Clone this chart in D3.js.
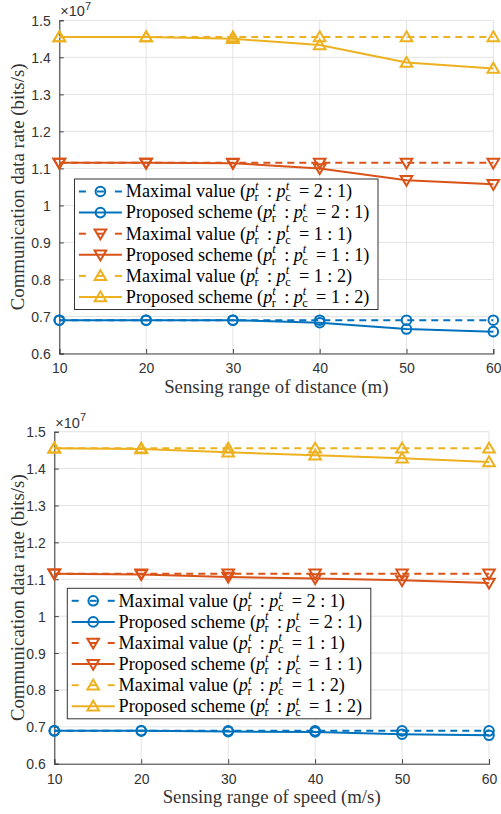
<!DOCTYPE html>
<html>
<head>
<meta charset="utf-8">
<script src="https://cdn.jsdelivr.net/npm/d3@7"></script>
<style>
  body { margin: 0; background: #fff; }
  svg { display: block; }
</style>
</head>
<body>
<svg id="chart" width="501" height="814"></svg>
<script>
// x values shared by both panels
const xVals = [10, 20, 30, 40, 50, 60];
const yTicks = [0.6, 0.7, 0.8, 0.9, 1.0, 1.1, 1.2, 1.3, 1.4, 1.5];

// panel (a): sensing range of distance, values x 1e7 bits/s
const distMax21  = [0.69, 0.69, 0.69, 0.69, 0.69, 0.69];
const distProp21 = [0.69, 0.69, 0.69, 0.683, 0.666, 0.659];
const distMax11  = [1.115, 1.115, 1.115, 1.115, 1.115, 1.115];
const distProp11 = [1.115, 1.115, 1.114, 1.10, 1.068, 1.057];
const distMax12  = [1.455, 1.455, 1.455, 1.455, 1.455, 1.455];
const distProp12 = [1.455, 1.455, 1.45, 1.433, 1.386, 1.37];

// panel (b): sensing range of speed
const speedMax21  = [0.689, 0.689, 0.689, 0.689, 0.689, 0.689];
const speedProp21 = [0.689, 0.689, 0.687, 0.686, 0.68, 0.677];
const speedMax11  = [1.115, 1.115, 1.115, 1.115, 1.115, 1.115];
const speedProp11 = [1.115, 1.113, 1.106, 1.102, 1.097, 1.09];
const speedMax12  = [1.455, 1.455, 1.455, 1.455, 1.455, 1.455];
const speedProp12 = [1.455, 1.453, 1.444, 1.436, 1.428, 1.418];

const ratioLabels = ["2 : 1", "1 : 1", "1 : 2"];
const colors = ["#0072BD", "#D95319", "#EDB120"];
const markers = ["circle", "down", "up"];

const serif = "'Liberation Serif', 'DejaVu Serif', serif";
const sans = "'Liberation Sans', Arial, sans-serif";

const svg = d3.select("#chart");

function marker(sel, kind, color) {
    if (kind == "circle") {
        sel.append("circle").attr("r", 4.8)
           .attr("fill", "none").attr("stroke", color).attr("stroke-width", 2);
    } else {
        let p = kind == "up" ? "M0,-5.6L5.8,4.2L-5.8,4.2Z" : "M0,5.6L5.8,-4.2L-5.8,-4.2Z";
        sel.append("path").attr("d", p)
           .attr("fill", "none").attr("stroke", color).attr("stroke-width", 2)
           .attr("stroke-linejoin", "miter");
    }
}

// legend text with p_r^t : p_c^t notation
function legendText(g, x, y, name, ratio) {
    let t = g.append("text").attr("x", x).attr("y", y)
             .attr("font-family", serif).attr("font-size", 18.2).attr("fill", "#000");
    t.append("tspan").text(name + " (");
    let pp = (sub) => {
        t.append("tspan").attr("font-style", "italic").text("p");
        t.append("tspan").attr("font-style", "italic").attr("font-size", 12.5).attr("dy", -7.5).text("t");
        t.append("tspan").attr("font-size", 12.5).attr("dx", -4).attr("dy", 11.5).text(sub);
        t.append("tspan").attr("dy", -4).text("\u2009");
    };
    pp("r");
    t.append("tspan").text(" : ");
    pp("c");
    t.append("tspan").text(" = " + ratio + ")");
}

function panel(cfg) {
    let x = d3.scaleLinear().domain([10, 60]).range([cfg.left, cfg.right]);
    let y = d3.scaleLinear().domain([0.6, 1.5]).range([cfg.bottom, cfg.top]);
    let g = svg.append("g");

    // grid
    g.append("g").selectAll("line").data(xVals).join("line")
     .attr("x1", d => x(d)).attr("x2", d => x(d))
     .attr("y1", cfg.top).attr("y2", cfg.bottom)
     .attr("stroke", "#e3e3e3").attr("stroke-width", 1);
    g.append("g").selectAll("line").data(yTicks).join("line")
     .attr("x1", cfg.left).attr("x2", cfg.right)
     .attr("y1", d => y(d)).attr("y2", d => y(d))
     .attr("stroke", "#e3e3e3").attr("stroke-width", 1);

    // axes (ticks inward, like matlab)
    let fmt = d => String(+d.toFixed(1));
    let ax = g.append("g").attr("transform", `translate(0,${cfg.bottom})`)
              .call(d3.axisBottom(x).tickValues(xVals).tickSize(-4.5).tickPadding(10).tickFormat(d3.format("d")));
    let ay = g.append("g").attr("transform", `translate(${cfg.left},0)`)
              .call(d3.axisLeft(y).tickValues(yTicks).tickSize(-4.5).tickPadding(8.5).tickFormat(fmt));
    [ax, ay].forEach(a => {
        a.select(".domain").attr("stroke", "#444").attr("stroke-width", 1.1);
        a.selectAll(".tick line").attr("stroke", "#444");
        a.selectAll(".tick text").attr("font-family", sans).attr("font-size", 14).attr("fill", "#333");
    });
    ay.selectAll(".tick text").attr("dy", "0.36em");

    // x10^7
    let e = g.append("text").attr("x", cfg.left + 1).attr("y", cfg.top - 4)
             .attr("font-family", sans).attr("font-size", 14.5).attr("fill", "#333");
    e.append("tspan").text("\u00d710");
    e.append("tspan").attr("font-size", 11).attr("dy", -6.5).text("7");

    // axis labels
    g.append("text").attr("x", (cfg.left + cfg.right) / 2).attr("y", cfg.xLabelY)
     .attr("text-anchor", "middle").attr("font-family", serif).attr("font-size", 18.8)
     .attr("fill", "#333").text(cfg.xLabel);
    g.append("text")
     .attr("transform", `translate(24,${(cfg.top + cfg.bottom) / 2}) rotate(-90)`)
     .attr("text-anchor", "middle").attr("font-family", serif).attr("font-size", 18.8)
     .attr("fill", "#333").text("Communication data rate (bits/s)");

    // series
    let line = d3.line().x((d, i) => x(xVals[i])).y(d => y(d));
    cfg.series.forEach((pair, k) => {
        pair.forEach((vals, j) => {
            let dashed = j == 0;
            g.append("path").datum(vals).attr("d", line)
             .attr("fill", "none").attr("stroke", colors[k]).attr("stroke-width", 2)
             .attr("stroke-dasharray", dashed ? "7,5" : null);
            g.append("g").selectAll("g").data(vals).join("g")
             .attr("transform", (d, i) => `translate(${x(xVals[i])},${y(d)})`)
             .each(function() { marker(d3.select(this), markers[k], colors[k]); });
        });
    });

    // legend
    let lg = svg.append("g").attr("transform", `translate(${cfg.legX},${cfg.legY})`);
    let rowH = 21.1, lw = 303.5;
    lg.append("rect").attr("x", 0).attr("y", 0).attr("width", lw).attr("height", 12.5 * 2 + rowH * 5)
      .attr("fill", "#fff").attr("stroke", "#333").attr("stroke-width", 1);
    let entries = [];
    ratioLabels.forEach((r, k) => {
        entries.push({name: "Maximal value", ratio: r, k: k, dashed: true});
        entries.push({name: "Proposed scheme", ratio: r, k: k, dashed: false});
    });
    entries.forEach((en, i) => {
        let cy = 12.5 + i * rowH;
        let row = lg.append("g").attr("transform", `translate(0,${cy})`);
        let segs = en.dashed ? [[4.4, 11.4], [22.4, 29.4], [40.4, 47.4]] : [[4.4, 47.4]];
        segs.forEach(s => row.append("line").attr("x1", s[0]).attr("x2", s[1])
            .attr("y1", 0).attr("y2", 0).attr("stroke", colors[en.k]).attr("stroke-width", 2));
        marker(row.append("g").attr("transform", "translate(25.9,0)"), markers[en.k], colors[en.k]);
        legendText(row, 51.3, 5.8, en.name, en.ratio);
    });
}

panel({
    left: 59.3, right: 493.3, top: 20.3, bottom: 353.5,
    xLabel: "Sensing range of distance (m)", xLabelY: 393,
    series: [[distMax21, distProp21], [distMax11, distProp11], [distMax12, distProp12]],
    legX: 74.5, legY: 179
});

panel({
    left: 54.3, right: 489, top: 431.7, bottom: 763.7,
    xLabel: "Sensing range of speed (m/s)", xLabelY: 803,
    series: [[speedMax21, speedProp21], [speedMax11, speedProp11], [speedMax12, speedProp12]],
    legX: 67.3, legY: 588.3
});
</script>
</body>
</html>
